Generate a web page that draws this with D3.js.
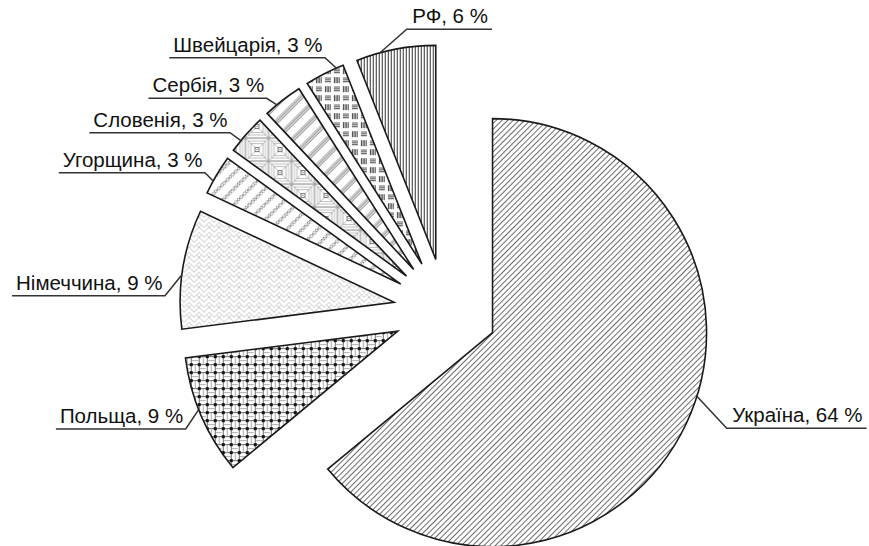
<!DOCTYPE html>
<html><head><meta charset="utf-8">
<script src="https://cdn.jsdelivr.net/npm/d3@7"></script>
<style>
html,body{margin:0;padding:0;background:#fff;}
svg{display:block;}
text{font-family:"Liberation Sans",Arial,sans-serif;font-size:20.5px;fill:#111;}
</style></head>
<body>
<svg id="chart" width="869" height="546"></svg>
<script>
// ---- data ----
const categories = ["Україна","Польща","Німеччина","Угорщина","Словенія","Сербія","Швейцарія","РФ"];
const values = [64, 9, 9, 3, 3, 3, 3, 6];
const patternIds = ["pUkr","pPol","pGer","pHun","pSlo","pSer","pSwi","pRus"];

// ---- layout (label leader attach angle in degrees, elbow position, side) ----
const labelAttach = [107.3, 248.5, 277.4, 298.8, 309.3, 320.3, 336.4, 344.9];
const labelElbow = [[726.7,428.3],[185.7,429],[165,295.7],[205,172.7],[230,132.7],[266.7,98.3],[325,57.7],[406.7,29.3]];
const labelSide = ["right","left","left","left","left","left","left","right"];

const W = 869, H = 546;
const cx = 445.5, cy = 310.5, R = 214, explode = 52;

const svg = d3.select("#chart");
const defs = svg.append("defs");

function pat(id, w, h, rot){
  const p = defs.append("pattern").attr("id", id).attr("patternUnits","userSpaceOnUse")
    .attr("width", w).attr("height", h);
  if (rot) p.attr("patternTransform", `rotate(${rot})`);
  p.append("rect").attr("width", w).attr("height", h).attr("fill", "#fff");
  return p;
}
// Ukraine: fine diagonal "/" lines
{ const p = pat("pUkr", 4, 4, 45);
  p.append("line").attr("x1",0.5).attr("y1",0).attr("x2",0.5).attr("y2",4).attr("stroke","#5a5a5a").attr("stroke-width",0.9); }
// RF: dense vertical lines
{ const p = pat("pRus", 3, 3, 0);
  p.append("line").attr("x1",0.5).attr("y1",0).attr("x2",0.5).attr("y2",3).attr("stroke","#333").attr("stroke-width",1); }
// Switzerland: alternating groups of horizontal / vertical lines
{ const p = pat("pSwi", 18, 18, 0);
  const g = p.append("g").attr("stroke","#333").attr("stroke-width",0.9);
  const hgrp = (x0,y0)=>{ for(let k=0;k<3;k++) g.append("line").attr("x1",x0+2).attr("x2",x0+8).attr("y1",y0+3+k*1.8).attr("y2",y0+3+k*1.8); };
  const vgrp = (x0,y0)=>{ for(let k=0;k<4;k++) g.append("line").attr("y1",y0+2).attr("y2",y0+8).attr("x1",x0+2.5+k*1.6).attr("x2",x0+2.5+k*1.6); };
  hgrp(0,0); vgrp(9,0); vgrp(0,9); hgrp(9,9); }
// Serbia: bands of thin diagonal lines
{ const p = pat("pSer", 12, 12, 45);
  [1,2.7,4.4].forEach(x=>p.append("line").attr("x1",x).attr("x2",x).attr("y1",0).attr("y2",12).attr("stroke","#666").attr("stroke-width",0.7)); }
// Slovenia: nested squares tiles
{ const p = pat("pSlo", 23, 23, 0);
  const g = p.append("g").attr("fill","none").attr("stroke","#8a8a8a").attr("stroke-width",0.55);
  g.append("path").attr("d","M0,0L23,23M23,0L0,23");
  [11,8.5,6].forEach(s=>g.append("rect").attr("x",11.5-s).attr("y",11.5-s).attr("width",2*s).attr("height",2*s));
  p.append("rect").attr("x",9.5).attr("y",9.5).attr("width",4).attr("height",4).attr("fill","#fff").attr("stroke","#555").attr("stroke-width",0.8);
  p.append("rect").attr("x",11).attr("y",11).attr("width",1).attr("height",1).attr("fill","#555"); }
// Hungary: grey dotted diagonal bands
{ const dots = defs.append("pattern").attr("id","pDots").attr("patternUnits","userSpaceOnUse").attr("width",2).attr("height",2);
  dots.append("rect").attr("width",2).attr("height",2).attr("fill","#fff");
  dots.append("rect").attr("width",1).attr("height",1).attr("fill","#888");
  dots.append("rect").attr("x",1).attr("y",1).attr("width",1).attr("height",1).attr("fill","#888");
  const p = pat("pHun", 11, 11, 45);
  p.append("rect").attr("x",0).attr("y",0).attr("width",3.5).attr("height",11).attr("fill","url(#pDots)"); }
// Germany: light grey herringbone
{ const p = pat("pGer", 10, 10, 0);
  p.append("path").attr("d","M0,5L5,0L10,5M0,10L5,5L10,10M2.5,2.5L5,5M7.5,7.5L10,10M7.5,2.5L5,5")
   .attr("fill","none").attr("stroke","#bdbdbd").attr("stroke-width",0.8); }
// Poland: basket weave grid with black squares at the crossings
{ const p = pat("pPol", 16, 16, 0);
  const g = p.append("g").attr("fill","none").attr("stroke","#444").attr("stroke-width",0.8);
  g.append("path").attr("d","M0,1.5H16M0,9.5H16M1.5,0V16M9.5,0V16");
  g.append("path").attr("d","M5.5,1.5V9.5M13.5,9.5V16M13.5,0V1.5M9.5,5.5H16M1.5,13.5H9.5").attr("stroke","#999");
  [[0,0],[8,0],[0,8],[8,8]].forEach(([x,y])=>p.append("rect").attr("x",x).attr("y",y).attr("width",3).attr("height",3).attr("fill","#111"));
}

const pie = d3.pie().sort(null).value(d=>d).startAngle(0).endAngle(2*Math.PI);
const arcs = pie(values);
const arc = d3.arc().innerRadius(0).outerRadius(R);

const slices = svg.append("g").attr("transform",`translate(${cx},${cy})`);
arcs.forEach((a,i)=>{
  const mid = (a.startAngle + a.endAngle)/2;
  const ox = explode*Math.sin(mid), oy = -explode*Math.cos(mid);
  a.ox = ox; a.oy = oy;
  slices.append("path").attr("d", arc(a)).attr("transform",`translate(${ox},${oy})`)
    .attr("fill", `url(#${patternIds[i]})`).attr("stroke","#1a1a1a").attr("stroke-width",1.6)
    .attr("stroke-linejoin","miter");
});

// labels
const lg = svg.append("g");
arcs.forEach((a,i)=>{
  const ang = labelAttach[i]*Math.PI/180;
  const sx = cx + a.ox + R*Math.sin(ang), sy = cy + a.oy - R*Math.cos(ang);
  const [ex, ey] = labelElbow[i];
  const txt = `${categories[i]}, ${values[i]} %`;
  const t = lg.append("text").text(txt).attr("y", ey - 6);
  let x2;
  if (labelSide[i] === "left") {
    t.attr("x", ex - 2.5).attr("text-anchor","end");
    const len = t.node().getComputedTextLength();
    x2 = ex - 2.5 - len - 4;
  } else {
    t.attr("x", ex + 5.5).attr("text-anchor","start");
    const len = t.node().getComputedTextLength();
    x2 = Math.min(W, ex + 5.5 + len + 4);
  }
  lg.append("path").attr("d", `M${sx},${sy}L${ex},${ey}L${x2},${ey}`)
    .attr("fill","none").attr("stroke","#333").attr("stroke-width",1.5);
});
</script>
</body></html>
